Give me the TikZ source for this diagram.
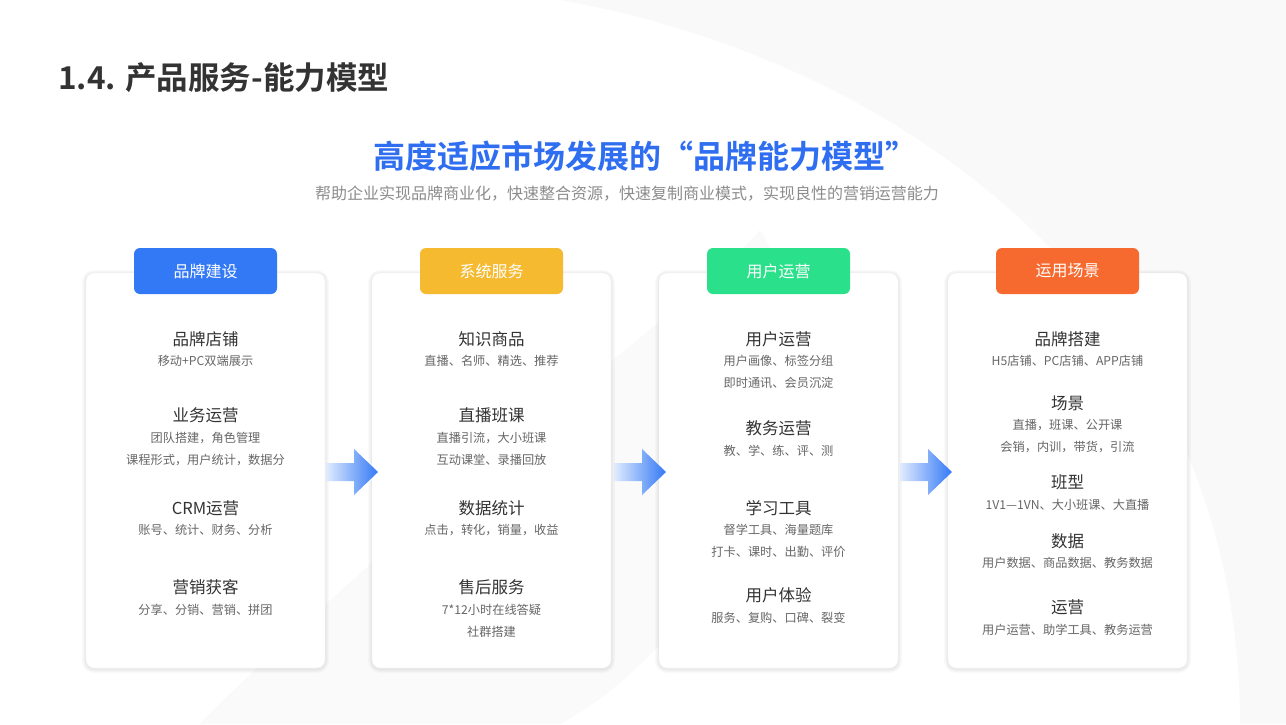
\documentclass[tikz,border=0pt]{standalone}
\usepackage{fontspec}
\setmainfont{Noto Sans CJK SC}
\newfontfamily\cjkb{Noto Sans CJK SC Bold}
\definecolor{tblue}{HTML}{2F6EF0}
\definecolor{c1}{HTML}{3379F6}
\definecolor{c2}{HTML}{F5BA30}
\definecolor{c3}{HTML}{2BE08B}
\definecolor{c4}{HTML}{F76A2F}
\definecolor{hd}{HTML}{333333}
\definecolor{sb}{HTML}{666666}
\begin{document}
\begin{tikzpicture}[x=1pt,y=-1pt,
 card/.style={draw=black!6,fill=white,rounded corners=8pt},
 tab/.style={rounded corners=6pt,minimum width=143pt,minimum height=46pt,text=white,font=\fontsize{16}{16}\selectfont,inner sep=0pt},
 hdt/.style={text=hd,font=\fontsize{16.5}{16.5}\selectfont},
 sbt/.style={text=sb,font=\fontsize{12.2}{12.2}\selectfont}]
\useasboundingbox (0,0) rectangle (1286,724);
\fill[white] (0,0) rectangle (1286,724);
\fill[black!2.5] (560,0) .. controls (900,60) and (1240,300) .. (1240,724) -- (1286,724) -- (1286,0) -- cycle;
\fill[black!2] (200,724) .. controls (400,520) and (700,300) .. (760,230) .. controls (860,400) and (700,650) .. (560,724) -- cycle;
\node[anchor=west,text=hd,font=\cjkb\fontsize{31.5}{31.5}\selectfont,inner sep=0pt] (h) at (58,78) {1.4. 产品服务-能力模型};
\node[text=tblue,font=\cjkb\fontsize{32}{32}\selectfont] (t) at (645,156) {高度适应市场发展的“品牌能力模型”};
\node[text=black!45,font=\fontsize{16}{16}\selectfont] (s) at (627,194) {帮助企业实现品牌商业化，快速整合资源，快速复制商业模式，实现良性的营销运营能力};
\foreach \x in {86,372,659,948}{
 \foreach \k in {4,3,2,1}{
  \fill[black,opacity=0.018,rounded corners=8pt+\k pt] (\x-\k,273-\k+1) rectangle ++(239+2*\k,395+2*\k);
 }
 \draw[card] (\x,273) rectangle ++(239,395);
}
\node[tab,fill=c1] (a) at (205.5,271) {品牌建设};
\node[tab,fill=c2] (b) at (491.5,271) {系统服务};
\node[tab,fill=c3] (c) at (778.5,271) {用户运营};
\node[tab,fill=c4] (d) at (1067.5,271) {运用场景};
\foreach \x in {326,614,900}{
 \shade[left color=c1!15,right color=c1] (\x,463) -- (\x+28,463) -- (\x+28,449) -- (\x+52,472) -- (\x+28,495) -- (\x+28,481) -- (\x,481) -- cycle;
}
% card 1
\node[hdt] (a1) at (205.5,339) {品牌店铺};
\node[sbt] (a1s) at (205.5,361) {移动+PC双端展示};
\node[hdt] (a2) at (205.5,415) {业务运营};
\node[sbt] (a2s) at (205.5,438) {团队搭建，角色管理};
\node[sbt] (a2t) at (205.5,460) {课程形式，用户统计，数据分};
\node[hdt] (a3) at (205.5,508) {CRM运营};
\node[sbt] (a3s) at (205.5,530) {账号、统计、财务、分析};
\node[hdt] (a4) at (205.5,587) {营销获客};
\node[sbt] (a4s) at (205.5,610) {分享、分销、营销、拼团};
% card 2
\node[hdt] (b1) at (491.5,339) {知识商品};
\node[sbt] (b1s) at (491.5,361) {直播、名师、精选、推荐};
\node[hdt] (b2) at (491.5,415) {直播班课};
\node[sbt] (b2s) at (491.5,438) {直播引流，大小班课};
\node[sbt] (b2t) at (491.5,460) {互动课堂、录播回放};
\node[hdt] (b3) at (491.5,508) {数据统计};
\node[sbt] (b3s) at (491.5,530) {点击，转化，销量，收益};
\node[hdt] (b4) at (491.5,587) {售后服务};
\node[sbt] (b4s) at (491.5,610) {7*12小时在线答疑};
\node[sbt] (b4t) at (491.5,632) {社群搭建};
% card 3
\node[hdt] (c1n) at (778.5,339) {用户运营};
\node[sbt] (c1s) at (778.5,361) {用户画像、标签分组};
\node[sbt] (c1t) at (778.5,383) {即时通讯、会员沉淀};
\node[hdt] (c2n) at (778.5,428) {教务运营};
\node[sbt] (c2s) at (778.5,451) {教、学、练、评、测};
\node[hdt] (c3n) at (778.5,508) {学习工具};
\node[sbt] (c3s) at (778.5,530) {督学工具、海量题库};
\node[sbt] (c3t) at (778.5,552) {打卡、课时、出勤、评价};
\node[hdt] (c4n) at (778.5,595) {用户体验};
\node[sbt] (c4s) at (778.5,618) {服务、复购、口碑、裂变};
% card 4
\node[hdt] (d1) at (1067.5,339) {品牌搭建};
\node[sbt] (d1s) at (1067.5,361) {H5店铺、PC店铺、APP店铺};
\node[hdt] (d2) at (1067.5,403) {场景};
\node[sbt] (d2s) at (1067.5,425) {直播，班课、公开课};
\node[sbt] (d2t) at (1067.5,447) {会销，内训，带货，引流};
\node[hdt] (d3) at (1067.5,482) {班型};
\node[sbt] (d3s) at (1067.5,505) {1V1—1VN、大小班课、大直播};
\node[hdt] (d4) at (1067.5,541) {数据};
\node[sbt] (d4s) at (1067.5,563) {用户数据、商品数据、教务数据};
\node[hdt] (d5) at (1067.5,607) {运营};
\node[sbt] (d5s) at (1067.5,630) {用户运营、助学工具、教务运营};
\end{tikzpicture}
\end{document}
